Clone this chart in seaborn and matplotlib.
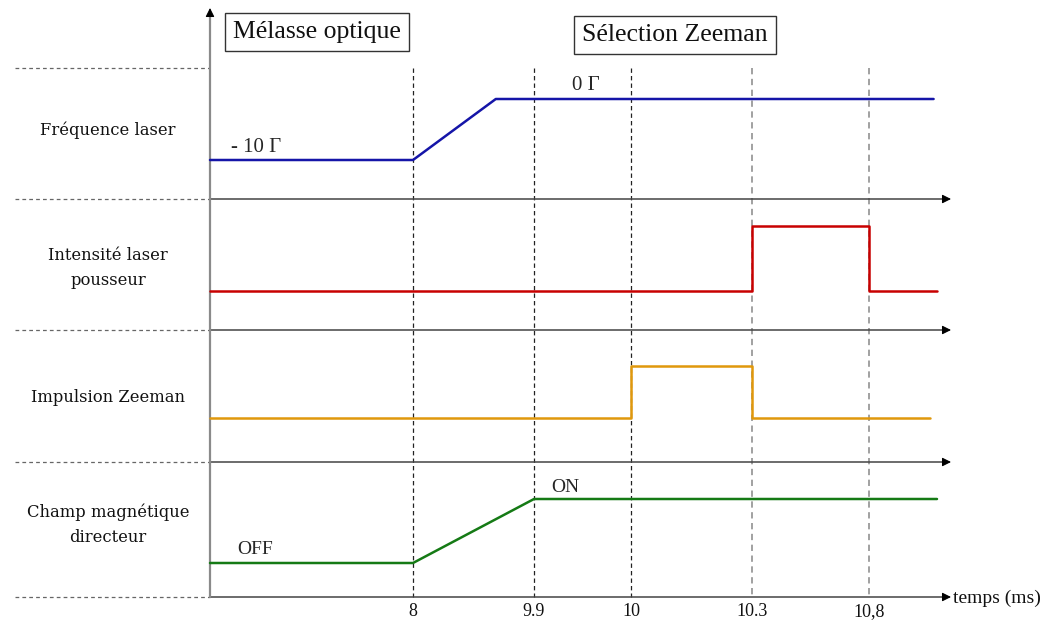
import numpy as np
import pandas as pd
import matplotlib
matplotlib.use("Agg")
import matplotlib.pyplot as plt
import seaborn as sns

# ---- data -------------------------------------------------------------
# event times on the time axis (ms)
tick_times = [8, 9.9, 10, 10.3, 10.8]
tick_labels = ["8", "9.9", "10", "10.3", "10,8"]

# laser detuning (in units of Gamma)
freq_t = [0, 8, 9.3, 10.99]
freq_v = [-10, -10, 0, 0]
# pushing-beam intensity (0 = off, 1 = on)
pousseur_t = [0, 10.3, 10.3, 10.8, 10.8, 11.0]
pousseur_v = [0, 0, 1, 1, 0, 0]
# Zeeman pulse
zeeman_t = [0, 10, 10, 10.3, 10.3, 10.98]
zeeman_v = [0, 0, 1, 1, 0, 0]
# guiding magnetic field
champ_t = [0, 8, 9.9, 11.0]
champ_v = [0, 0, 1, 1]

row_labels = ["Fréquence laser", "Intensité laser\npousseur",
              "Impulsion Zeeman", "Champ magnétique\ndirecteur"]
phase_labels = ["Mélasse optique", "Sélection Zeeman"]

# ---- layout -----------------------------------------------------------
W, H = 1051, 621
# the time axis is schematic: piecewise-linear map from ms to drawing units
T_BREAK = [0, 8, 9.9, 10, 10.3, 10.8, 11.0]
X_BREAK = [210, 413, 534, 631, 752, 869, 937]
def tx(t):
    return np.interp(t, T_BREAK, X_BREAK)

X0 = 210          # vertical axis position
X_ARROW = 951     # end of horizontal axes
SEP_Y = [68, 199, 330, 462, 597]          # row boundaries
ROW_LEVELS = [(160, 99), (291, 226), (418, 366), (563, 499)]  # (low, high)
ROW_LABEL_Y = [130, 268, 397, 525]
colors = {"freq": "#1515a8", "pousseur": "#c80000",
          "zeeman": "#e0980c", "champ": "#157a15"}

sns.set_theme(style="white")
plt.rcParams["font.family"] = ["Liberation Serif", "DejaVu Serif"]

fig = plt.figure(figsize=(W / 100, H / 100), dpi=100)
ax = fig.add_axes([0, 0, 1, 1])

# ---- build signal table ---------------------------------------------
def level_to_y(v, row):
    lo, hi = ROW_LEVELS[row]
    return lo + (hi - lo) * np.asarray(v, float)

freq_norm = (np.asarray(freq_v, float) - min(freq_v)) / (max(freq_v) - min(freq_v))
signals = [("freq", freq_t, freq_norm),
           ("pousseur", pousseur_t, pousseur_v),
           ("zeeman", zeeman_t, zeeman_v),
           ("champ", champ_t, champ_v)]
frames = []
for row, (name, t, v) in enumerate(signals):
    frames.append(pd.DataFrame({"signal": name,
                                "x": tx(t),
                                "y": level_to_y(v, row)}))
df = pd.concat(frames, ignore_index=True)

# ---- grid: event markers and row separators --------------------------
for t in tick_times:
    dark = t <= 10
    ax.plot([tx(t)] * 2, [SEP_Y[0], SEP_Y[-1]],
            color="#222222" if dark else "#9a9a9a",
            lw=0.9 if dark else 1.3, ls=(0, (3.5, 2.5)), zorder=1)

for y in SEP_Y:
    ax.plot([15, X0], [y, y], color="#666666", lw=0.9,
            ls=(0, (3, 2.5)), zorder=1)

def arrow_head(xy, xytext):
    ax.annotate("", xy=xy, xytext=xytext,
                arrowprops=dict(arrowstyle="-|>", ec="black", fc="black",
                                lw=0.8, mutation_scale=13,
                                shrinkA=0, shrinkB=0), zorder=2)

for y in SEP_Y[1:]:
    ax.plot([X0, X_ARROW - 6], [y, y], color="#444444", lw=1.1, zorder=2)
    arrow_head((X_ARROW, y), (X_ARROW - 8, y))

ax.plot([X0, X0], [SEP_Y[-1], 14], color="#8a8a8a", lw=1.6, zorder=2)
arrow_head((X0, 8), (X0, 16))

# ---- signals ---------------------------------------------------------
sns.lineplot(data=df, x="x", y="y", hue="signal", units="signal",
             estimator=None, sort=False, palette=colors, lw=1.8,
             legend=False, ax=ax, zorder=3)
ax.set_xlim(0, W)
ax.set_ylim(H, 0)
ax.axis("off")

# ---- texts -----------------------------------------------------------
for lab, y in zip(row_labels, ROW_LABEL_Y):
    ax.text(108, y, lab, ha="center", va="center", fontsize=11.8,
            family=["DejaVu Serif"], linespacing=1.65, color="#111111")

for t, lab in zip(tick_times, tick_labels):
    ax.text(tx(t), 612, lab, ha="center", va="center", fontsize=13,
            color="#111111")
ax.text(953, 598, "temps (ms)", ha="left", va="center", fontsize=14,
        color="#111111")

box = dict(boxstyle="square,pad=0.3", fc="white", ec="#333333", lw=1.0)
ax.text(317, 32, phase_labels[0], ha="center", va="center", fontsize=18.5,
        bbox=box, color="#111111")
ax.text(675, 35, phase_labels[1], ha="center", va="center", fontsize=18.5,
        bbox=box, color="#111111")

ax.text(256, 147, "- 10 \u0393", ha="center", va="center", fontsize=15)
ax.text(586, 86, "0 \u0393", ha="center", va="center", fontsize=15)
ax.text(255, 549, "OFF", ha="center", va="center", fontsize=14)
ax.text(565, 487, "ON", ha="center", va="center", fontsize=14)

fig.savefig("out.png", dpi=100)
